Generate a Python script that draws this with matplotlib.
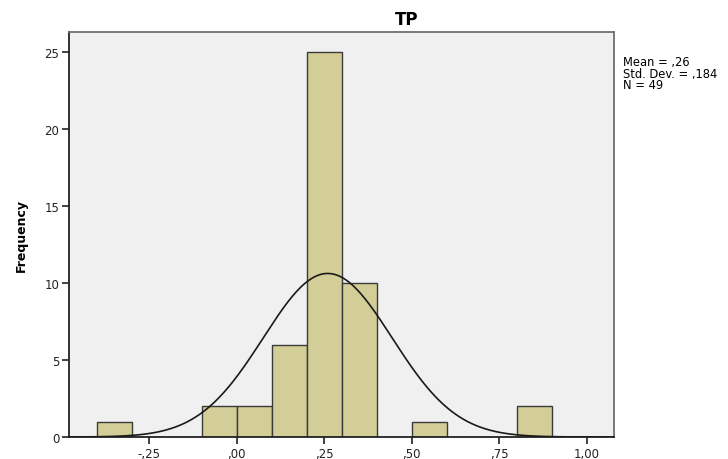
import numpy as np
import matplotlib
matplotlib.use("Agg")
import matplotlib.pyplot as plt

plt.rcParams['font.family'] = ['DejaVu Sans']

# histogram bin edges and counts
BIN_EDGES = [-0.4, -0.3, -0.2, -0.1, 0.0, 0.1, 0.2, 0.3, 0.4, 0.5, 0.6, 0.7, 0.8, 0.9]
COUNTS = [1, 0, 0, 2, 2, 6, 25, 10, 0, 1, 0, 0, 2]
MEAN = 0.26
STD = 0.184
N = 49
XTICKS = [-0.25, 0.0, 0.25, 0.50, 0.75, 1.00]
XTICK_LABELS = ["-,25", ",00", ",25", ",50", ",75", "1,00"]
YTICKS = [0, 5, 10, 15, 20, 25]

fig = plt.figure(figsize=(7.28, 4.6), dpi=100)
ax = fig.add_axes([0.0948, 0.0478, 0.7486, 0.8802])
ax.set_facecolor('#F0F0F0')

lefts = np.array(BIN_EDGES[:-1])
widths = np.diff(BIN_EDGES)
for l, w, c in zip(lefts, widths, COUNTS):
    if c > 0:
        ax.bar(l, c, width=w, align='edge', color='#D3CE98',
               edgecolor='#3a3a3a', linewidth=1.0, zorder=2)

# normal curve scaled to counts
bw = 0.1
xs = np.linspace(-0.479, 1.078, 400)
ys = N * bw / (STD * np.sqrt(2 * np.pi)) * np.exp(-0.5 * ((xs - MEAN) / STD) ** 2)
ax.plot(xs, ys, color='#1a1a1a', linewidth=1.2, zorder=3)

ax.set_xlim(-0.479, 1.078)
ax.set_ylim(0, 26.3)
ax.set_xticks(XTICKS)
ax.set_xticklabels(XTICK_LABELS)
ax.set_yticks(YTICKS)
ax.tick_params(direction='out', length=5, width=1.2, colors='#222222',
               labelsize=8.5, pad=2)
for s in ax.spines.values():
    s.set_color('#6e6e6e')
    s.set_linewidth(1.3)
ax.spines['bottom'].set_color('#222222')
ax.spines['left'].set_color('#222222')

fig.text(0.558, 0.957, "TP", fontsize=12, fontweight='bold',
         ha='center', va='center')
ax.set_ylabel("Frequency", fontsize=9, fontweight='bold', labelpad=12)

fig.text(0.856, 0.878, "Mean = ,26\nStd. Dev. = ,184\nN = 49",
         fontsize=8.3, va='top', ha='left', linespacing=0.85)

fig.savefig("out.png", dpi=100)
